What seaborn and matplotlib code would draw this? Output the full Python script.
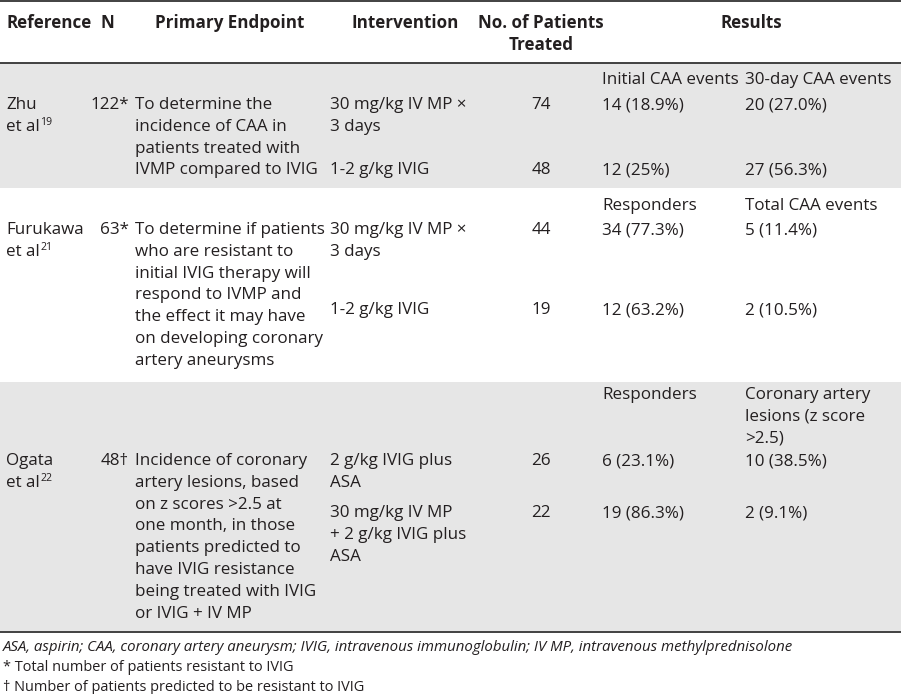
import matplotlib
matplotlib.use("Agg")
import matplotlib.pyplot as plt
import seaborn as sns

# ---------------- data ----------------
header_labels = ["Reference", "N", "Primary Endpoint", "Intervention",
                 "No. of Patients\nTreated", "Results"]
study_names = ["Zhu", "Furukawa", "Ogata"]
study_refs = ["19", "21", "22"]
study_n = ["122*", "63*", "48\u2020"]
primary_endpoints = [
    "To determine the\nincidence of CAA in\npatients treated with\nIVMP compared to IVIG",
    "To determine if patients\nwho are resistant to\ninitial IVIG therapy will\n"
    "respond to IVMP and\nthe effect it may have\non developing coronary\nartery aneurysms",
    "Incidence of coronary\nartery lesions, based\non z scores >2.5 at\none month, in those\n"
    "patients predicted to\nhave IVIG resistance\nbeing treated with IVIG\nor IVIG + IV MP",
]
interventions = [
    ["30 mg/kg IV MP \u00d7\n3 days", "1-2 g/kg IVIG"],
    ["30 mg/kg IV MP \u00d7\n3 days", "1-2 g/kg IVIG"],
    ["2 g/kg IVIG plus\nASA", "30 mg/kg IV MP\n+ 2 g/kg IVIG plus\nASA"],
]
patients_treated = [[74, 48], [44, 19], [26, 22]]
result_headers = [
    ["Initial CAA events", "30-day CAA events"],
    ["Responders", "Total CAA events"],
    ["Responders", "Coronary artery\nlesions (z score\n>2.5)"],
]
result_a = [["14 (18.9%)", "12 (25%)"], ["34 (77.3%)", "12 (63.2%)"], ["6 (23.1%)", "19 (86.3%)"]]
result_b = [["20 (27.0%)", "27 (56.3%)"], ["5 (11.4%)", "2 (10.5%)"], ["10 (38.5%)", "2 (9.1%)"]]
footnotes = [
    "ASA, aspirin; CAA, coronary artery aneurysm; IVIG, intravenous immunoglobulin; IV MP, intravenous methylprednisolone",
    "* Total number of patients resistant to IVIG",
    "\u2020 Number of patients predicted to be resistant to IVIG",
]

# ---------------- layout ----------------
W, H = 901, 694
LS = 21.8
TXT = "#231f20"
SHADE = "#e6e6e6"
header_base = [28, 50]
row_span = [(63, 188), (188, 382), (382, 631)]
row_shaded = [True, False, True]
label_base = [84, 210, 399]
main_base = [109, 234, 465]
second_base = [109 + 3 * LS, 314, 517]
foot_base = [651, 671, 691]
x_ref, x_n, x_ep, x_int, x_pat, x_ra, x_rb = 6, 129, 135, 330, 541, 602, 745
header_x = [(6, "left"), (107, "center"), (230, "center"), (405, "center"),
            (541, "center"), (751, "center")]

sns.set_theme(style="white")
plt.rcParams['font.family'] = ['Open Sans', 'DejaVu Sans']

fig = plt.figure(figsize=(W / 100, H / 100), dpi=100)
fig.patch.set_facecolor("white")
ax = fig.add_axes([0, 0, 1, 1])
ax.set_xlim(0, W)
ax.set_ylim(H, 0)
ax.axis("off")

# fit font size so that a reference line has the measured width
renderer = fig.canvas.get_renderer()
probe = ax.text(0, 0, "To determine if patients", fontsize=10)
w10 = probe.get_window_extent(renderer).width
probe.remove()
FS = 10 * 190.0 / w10


def put(x, y, s, ha="left", weight="normal", style="normal", size=None):
    lines = s.split("\n")
    objs = []
    for i, ln in enumerate(lines):
        objs.append(ax.text(x, y + i * LS, ln, ha=ha, va="baseline", color=TXT,
                            fontsize=size or FS, fontweight=weight, fontstyle=style))
    return objs


# shading and rules
for (y0, y1), sh in zip(row_span, row_shaded):
    if sh:
        ax.axhspan(y0, y1, color=SHADE, lw=0, zorder=0)
for yy in (1.2, 62.5, 631.5):
    ax.axhline(yy, color="#333333", lw=1.3, zorder=2)

# header
for (hx, ha), lab in zip(header_x, header_labels):
    put(hx, header_base[0], lab, ha=ha, weight="bold")

# rows
for i in range(3):
    put(x_ref, main_base[i], study_names[i])
    t = put(x_ref, main_base[i] + LS, "et al")[0]
    bb = t.get_window_extent(renderer)
    x_end = ax.transData.inverted().transform((bb.x1, bb.y0))[0]
    ax.text(x_end + 0.5, main_base[i] + LS - 6, study_refs[i], ha="left", va="baseline",
            color=TXT, fontsize=FS * 0.62)
    put(x_n, main_base[i], study_n[i], ha="right")
    put(x_ep, main_base[i], primary_endpoints[i])
    put(x_int, main_base[i], interventions[i][0])
    put(x_int, second_base[i], interventions[i][1])
    put(x_pat, main_base[i], str(patients_treated[i][0]), ha="center")
    put(x_pat, second_base[i], str(patients_treated[i][1]), ha="center")
    put(x_ra, label_base[i], result_headers[i][0])
    put(x_rb, label_base[i], result_headers[i][1])
    put(x_ra, main_base[i], result_a[i][0])
    put(x_ra, second_base[i], result_a[i][1])
    put(x_rb, main_base[i], result_b[i][0])
    put(x_rb, second_base[i], result_b[i][1])

# footnotes
put(3, foot_base[0], footnotes[0], style="italic", size=FS * 0.88)
put(3, foot_base[1], footnotes[1], size=FS * 0.855)
put(3, foot_base[2], footnotes[2], size=FS * 0.855)

fig.savefig("out.png", dpi=100, facecolor="white")
